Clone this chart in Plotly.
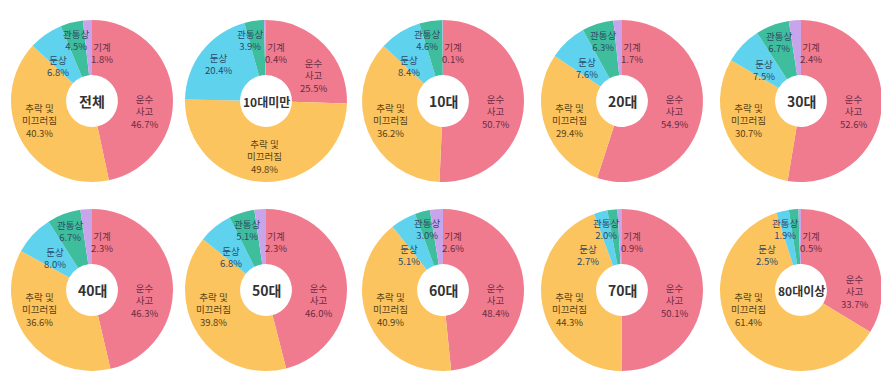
import math
import plotly.graph_objects as go

# ---- data ----
groups = ["전체", "10대미만", "10대", "20대", "30대", "40대", "50대", "60대", "70대", "80대이상"]
categories = ["운수 사고", "추락 및 미끄러짐", "둔상", "관통상", "기계"]
cat_text = ["운수<br>사고", "추락 및<br>미끄러짐", "둔상", "관통상", "기계"]
transport = [46.7, 25.5, 50.7, 54.9, 52.6, 46.3, 46.0, 48.4, 50.1, 33.7]
fall = [40.3, 49.8, 36.2, 29.4, 30.7, 36.6, 39.8, 40.9, 44.3, 61.4]
blunt = [6.8, 20.4, 8.4, 7.6, 7.5, 8.0, 6.8, 5.1, 2.7, 2.5]
penetrating = [4.5, 3.9, 4.6, 6.3, 6.7, 6.7, 5.1, 3.0, 2.0, 1.9]
machine = [1.8, 0.4, 0.1, 1.7, 2.4, 2.3, 2.3, 2.6, 0.9, 0.5]

colors = ["#f07b8f", "#fbc45f", "#5fd2ee", "#3fbe9d", "#c8a5ea"]
text_colors = ["#6a2c44", "#5a4212", "#2c4a66", "#2c4a66", "#6a2c44"]

# ---- layout constants (window pixels; page body has an 8px margin) ----
OFF = 8
W, H = 889 - OFF, 390 - OFF
R = 81
col_x = [92, 266, 443, 622, 801]
row_y = [101, 290]
HOLE = 0.32
FONT = "Noto Sans CJK KR, Noto Sans, sans-serif"


def px2paper(px, py):
    return (px - OFF) / W, 1 - (py - OFF) / H


fig = go.Figure()
annotations = []
series = [transport, fall, blunt, penetrating, machine]

for g, name in enumerate(groups):
    cx = col_x[g % 5]
    cy = row_y[g // 5]
    vals = [s[g] for s in series]
    x0, y1 = px2paper(cx - R, cy - R)
    x1, y0 = px2paper(cx + R, cy + R)
    fig.add_trace(go.Pie(
        labels=categories, values=vals, sort=False, direction="clockwise",
        rotation=0, hole=HOLE, textinfo="none", hoverinfo="skip",
        marker=dict(colors=colors, line=dict(width=0)),
        showlegend=False,
        domain=dict(x=[x0, x1], y=[y0, y1]),
    ))
    # centre label
    ax, ay = px2paper(cx, cy)
    annotations.append(dict(
        x=ax, y=ay, xref="paper", yref="paper", showarrow=False,
        xanchor="center", yanchor="middle",
        text="<b>%s</b>" % name,
        font=dict(family=FONT, size=14 if len(name) <= 3 else 12, color="#333333"),
    ))
    # slice angles (degrees clockwise from 12 o'clock)
    total = sum(vals)
    ends, mids = [], []
    cum = 0.0
    for v in vals:
        ends.append((cum + v) / total * 360.0)
        mids.append((cum + v / 2) / total * 360.0)
        cum += v
    angles = [0.0] * 5
    radii = [0.0] * 5
    # transport accident label
    angles[0] = 101.0 if ends[0] > 130 else ends[0] - 30.0
    radii[0] = 0.66 * R
    # fall label
    angles[1] = 250.0 if mids[1] >= 200 else mids[1]
    radii[1] = 0.69 * R
    # penetrating label
    angles[3] = min(mids[3], 345.0)
    radii[3] = 0.78 * R
    # blunt label
    lim = angles[3] - 27.0
    if mids[2] <= lim:
        angles[2], radii[2] = mids[2], 0.74 * R
    else:
        angles[2], radii[2] = lim - 2.0, 0.6 * R
    # machine label (just right of the top)
    angles[4] = 12.0
    radii[4] = 0.61 * R
    for k in range(5):
        a = math.radians(angles[k])
        lx, ly = px2paper(cx + radii[k] * math.sin(a), cy - radii[k] * math.cos(a))
        annotations.append(dict(
            x=lx, y=ly, xref="paper", yref="paper", showarrow=False,
            xanchor="center", yanchor="middle",
            text="%s<br>%.1f%%" % (cat_text[k], vals[k]),
            font=dict(family=FONT, size=9.5, color=text_colors[k]),
            align="center",
        ))

fig.update_layout(
    width=W, height=H, margin=dict(l=0, r=0, t=0, b=0),
    paper_bgcolor="white", plot_bgcolor="white",
    annotations=annotations,
)
fig.write_html("out.html")
